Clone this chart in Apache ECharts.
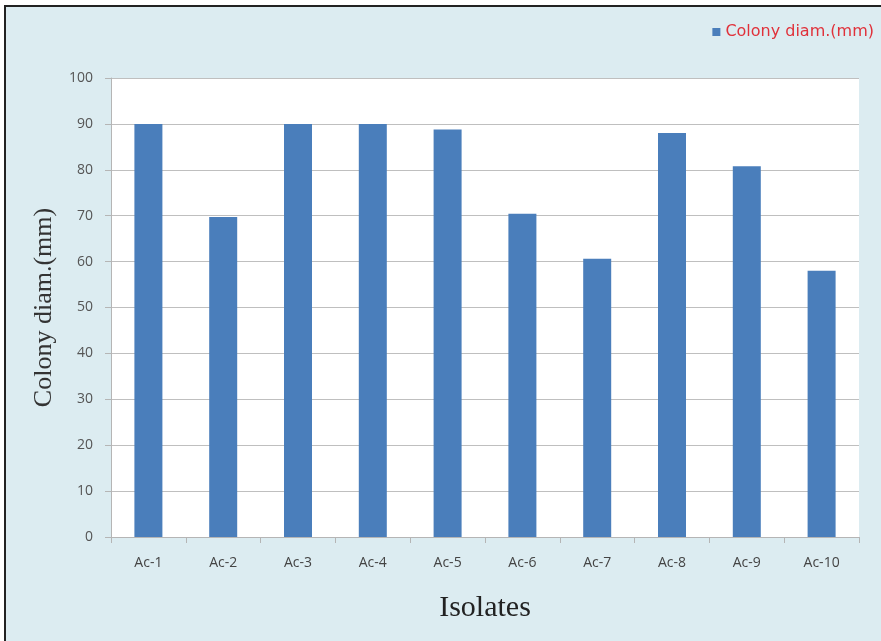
<!DOCTYPE html>
<html>
<head>
<meta charset="utf-8">
<script src="https://cdn.jsdelivr.net/npm/echarts@6/dist/echarts.min.js"></script>
<style>
  html, body { margin:0; padding:0; background:#fff; }
  #frame { position:absolute; left:4px; top:5px; width:880px; height:640px; border:2px solid #222; background:#dcecf1; box-sizing:border-box; }
  #chart { position:absolute; left:0; top:0; width:881px; height:641px; }
</style>
</head>
<body>
<div id="frame"></div>
<div id="chart"></div>
<script>
const isolates = ['Ac-1','Ac-2','Ac-3','Ac-4','Ac-5','Ac-6','Ac-7','Ac-8','Ac-9','Ac-10'];
const colonyDiam = [90, 69.7, 90, 90, 88.8, 70.4, 60.6, 88, 80.8, 58];

const chart = echarts.init(document.getElementById('chart'), null, { renderer: 'canvas' });
chart.setOption({
  animation: false,
  backgroundColor: 'transparent',
  legend: {
    right: 2, top: 19,
    itemWidth: 8, itemHeight: 8, itemGap: 5,
    textStyle: { color: '#e0313a', fontSize: 16, fontFamily: 'DejaVu Sans' },
    data: [{ name: 'Colony diam.(mm)', icon: 'rect' }]
  },
  grid: { left: 111, right: 22, top: 78, bottom: 104, show: true, backgroundColor: '#ffffff', borderWidth: 0 },
  xAxis: {
    type: 'category', data: isolates,
    name: 'Isolates', nameLocation: 'middle', nameGap: 56,
    nameTextStyle: { fontFamily: 'Liberation Serif', fontSize: 30, color: '#222' },
    axisLine: { lineStyle: { color: '#b5b5b5' } },
    axisTick: { show: true, length: 6, lineStyle: { color: '#b5b5b5' } },
    axisLabel: { color: '#444', fontSize: 14, fontFamily: 'Open Sans', margin: 19 }
  },
  yAxis: {
    type: 'value', min: 0, max: 100, interval: 10,
    name: 'Colony diam.(mm)', nameLocation: 'middle', nameGap: 54, nameRotate: 90,
    nameTextStyle: { fontFamily: 'Liberation Serif', fontSize: 26, color: '#333' },
    axisLine: { show: true, lineStyle: { color: '#b5b5b5' } },
    axisTick: { show: true, length: 6, lineStyle: { color: '#b5b5b5' } },
    axisLabel: { color: '#555', fontSize: 14, fontFamily: 'Open Sans', margin: 18 },
    splitLine: { lineStyle: { color: '#bfbfbf' } }
  },
  series: [{
    name: 'Colony diam.(mm)', type: 'bar', data: colonyDiam,
    barWidth: 28,
    itemStyle: { color: '#4a7ebb' }
  }]
});
</script>
</body>
</html>
